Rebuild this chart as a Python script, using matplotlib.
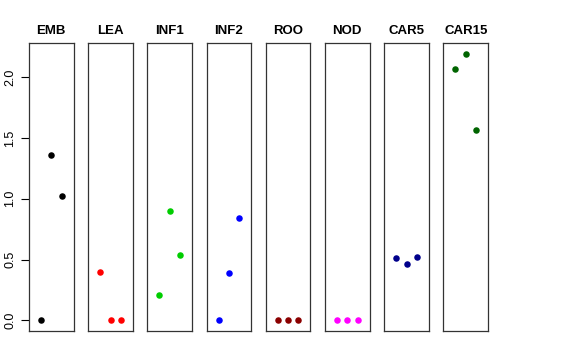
import matplotlib
matplotlib.use('Agg')
import matplotlib.pyplot as plt

plt.rcParams['font.family'] = ['Liberation Sans', 'DejaVu Sans']

# datos por tejido (3 replicas cada uno)
tissues = ['EMB', 'LEA', 'INF1', 'INF2', 'ROO', 'NOD', 'CAR5', 'CAR15']
colors = ['black', 'red', '#00CD00', 'blue', '#8B0000', 'magenta', '#00008B', '#006400']
reps = [1, 2, 3]
emb = [0.0, 1.36, 1.02]
lea = [0.40, 0.0, 0.0]
inf1 = [0.21, 0.90, 0.54]
inf2 = [0.0, 0.39, 0.84]
roo = [0.0, 0.0, 0.0]
nod = [0.0, 0.0, 0.0]
car5 = [0.51, 0.465, 0.52]
car15 = [2.07, 2.19, 1.565]
values = [emb, lea, inf1, inf2, roo, nod, car5, car15]
yticks = [0.0, 0.5, 1.0, 1.5, 2.0]

W, H = 576, 360
fig = plt.figure(figsize=(W / 100, H / 100), dpi=100)

left0, step, pw = 29, 59.2, 44.6
top, bottom = 43.3, 331
ymax = max(max(v) for v in values)
ylim = (-0.04 * ymax, ymax * 1.04)

for i, (name, vals, col) in enumerate(zip(tissues, values, colors)):
    x0 = left0 + i * step
    ax = fig.add_axes([x0 / W, 1 - bottom / H, pw / W, (bottom - top) / H])
    ax.scatter(reps, vals, s=22, color=col, zorder=3, linewidths=0)
    ax.set_xlim(-0.15, 4.15)
    ax.set_ylim(*ylim)
    ax.set_xticks([])
    ax.set_title(name, fontsize=9.5, fontweight='bold', pad=7)
    for sp in ax.spines.values():
        sp.set_linewidth(0.9)
        sp.set_color('#333333')
    if i == 0:
        ax.set_yticks(yticks)
        ax.set_yticklabels([f"{t:.1f}" for t in yticks], rotation=90, va='center', fontsize=9)
        ax.tick_params(axis='y', length=6, width=0.8, pad=3)
    else:
        ax.set_yticks([])

fig.savefig('out.png', dpi=100, facecolor='white')
